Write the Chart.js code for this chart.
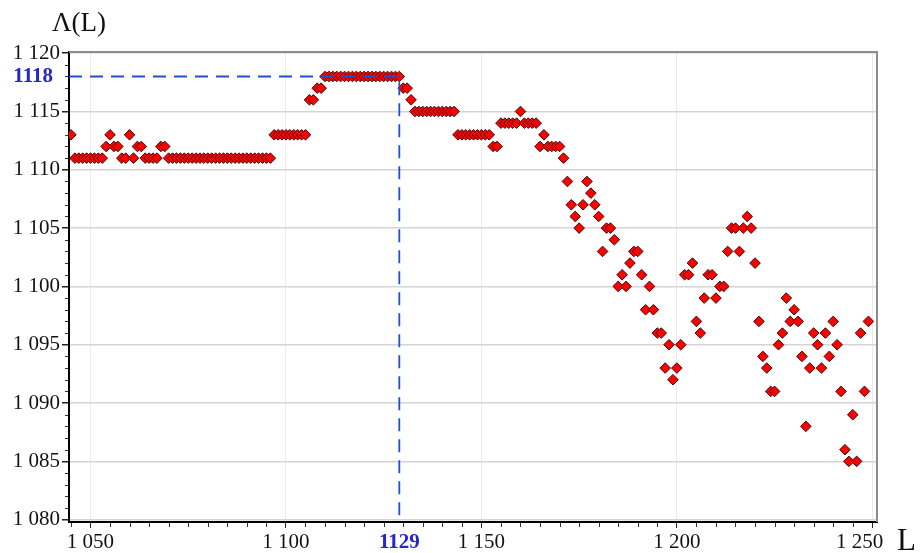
<!DOCTYPE html>
<html>
<head>
<meta charset="utf-8">
<style>
  html, body { margin: 0; padding: 0; background: #ffffff; }
  #wrap { width: 924px; height: 553px; }
</style>
<script src="https://cdn.jsdelivr.net/npm/chart.js@4.4.1/dist/chart.umd.min.js"></script>
</head>
<body>
<div id="wrap"><canvas id="chart" width="924" height="553"></canvas></div>
<script>
// Λ(L) for consecutive L, starting at firstL
const firstL = 1045;
const lambdaValues = [
  1113, 1111, 1111, 1111, 1111,
  1111, 1111, 1111, 1111, 1112, 1113, 1112, 1112, 1111, 1111,
  1113, 1111, 1112, 1112, 1111, 1111, 1111, 1111, 1112, 1112,
  1111, 1111, 1111, 1111, 1111, 1111, 1111, 1111, 1111, 1111,
  1111, 1111, 1111, 1111, 1111, 1111, 1111, 1111, 1111, 1111,
  1111, 1111, 1111, 1111, 1111, 1111, 1111, 1113, 1113, 1113,
  1113, 1113, 1113, 1113, 1113, 1113, 1116, 1116, 1117, 1117,
  1118, 1118, 1118, 1118, 1118, 1118, 1118, 1118, 1118, 1118,
  1118, 1118, 1118, 1118, 1118, 1118, 1118, 1118, 1118, 1118,
  1117, 1117, 1116, 1115, 1115, 1115, 1115, 1115, 1115, 1115,
  1115, 1115, 1115, 1115, 1113, 1113, 1113, 1113, 1113, 1113,
  1113, 1113, 1113, 1112, 1112, 1114, 1114, 1114, 1114, 1114,
  1115, 1114, 1114, 1114, 1114, 1112, 1113, 1112, 1112, 1112,
  1112, 1111, 1109, 1107, 1106, 1105, 1107, 1109, 1108, 1107,
  1106, 1103, 1105, 1105, 1104, 1100, 1101, 1100, 1102, 1103,
  1103, 1101, 1098, 1100, 1098, 1096, 1096, 1093, 1095, 1092,
  1093, 1095, 1101, 1101, 1102, 1097, 1096, 1099, 1101, 1101,
  1099, 1100, 1100, 1103, 1105, 1105, 1103, 1105, 1106, 1105,
  1102, 1097, 1094, 1093, 1091, 1091, 1095, 1096, 1099, 1097,
  1098, 1097, 1094, 1088, 1093, 1096, 1095, 1093, 1096, 1094,
  1097, 1095, 1091, 1086, 1085, 1089, 1085, 1096, 1091, 1097
];

// the highlighted maximum
const markL = 1129;
const markLambda = 1118;

// axis ticks and ranges
const xTickValues = [1050, 1100, 1129, 1150, 1200, 1250];
const yTickValues = [1080, 1085, 1090, 1095, 1100, 1105, 1110, 1115, 1118, 1120];
const xRange = [1044.5, 1251.2];
const yRange = [1079.8, 1120.1];

const SERIF = '"Liberation Serif", "Times New Roman", serif';
const MARK_BLUE = '#2626cc';
const DASH_BLUE = '#1f4fd2';
const TICK_SIZE = 21;

function groupThousands(v) {
  const s = String(Math.round(v));
  return s.length > 3 ? s.slice(0, s.length - 3) + ' ' + s.slice(-3) : s;
}

const points = lambdaValues.map((v, i) => ({ x: firstL + i, y: v }));
const guide = [
  { x: xRange[0], y: markLambda },
  { x: markL, y: markLambda },
  { x: markL, y: yRange[0] }
];

const isMark = (ctx, v) => ctx.tick && ctx.tick.value === v;
const xMax = xTickValues[xTickValues.length - 1];

// plot frame, minor ticks and axis captions
const decorations = {
  id: 'decorations',
  afterDraw(chart) {
    const { ctx, chartArea: a, scales: { x, y } } = chart;
    ctx.save();
    ctx.strokeStyle = '#8c8c8c';
    ctx.lineWidth = 2;
    ctx.beginPath();
    ctx.moveTo(a.left, a.top);
    ctx.lineTo(a.right, a.top);
    ctx.lineTo(a.right, a.bottom);
    ctx.stroke();

    ctx.strokeStyle = '#333';
    ctx.lineWidth = 1;
    ctx.beginPath();
    for (let v = Math.ceil(y.min); v <= y.max; v++) {
      if (v % 5 === 0) continue;
      const py = Math.round(y.getPixelForValue(v)) + 0.5;
      ctx.moveTo(a.left - 4, py);
      ctx.lineTo(a.left - 1, py);
    }
    for (let v = Math.ceil(x.min / 5) * 5; v <= x.max; v += 5) {
      if (v % 50 === 0) continue;
      const px = Math.round(x.getPixelForValue(v)) + 0.5;
      ctx.moveTo(px, a.bottom + 1);
      ctx.lineTo(px, a.bottom + 5);
    }
    ctx.stroke();

    ctx.fillStyle = '#111';
    ctx.textBaseline = 'alphabetic';
    ctx.textAlign = 'left';
    ctx.font = '27px ' + SERIF;
    ctx.fillText('Λ(L)', 52, 31);
    ctx.font = '31px ' + SERIF;
    ctx.fillText('L', 897, 550);
    ctx.restore();
  }
};

new Chart(document.getElementById('chart'), {
  type: 'scatter',
  data: {
    datasets: [
      {
        type: 'line',
        data: guide,
        borderColor: DASH_BLUE,
        borderWidth: 1.8,
        borderDash: [13, 8],
        pointRadius: 0,
        fill: false,
        order: 0
      },
      {
        type: 'scatter',
        data: points,
        pointStyle: 'rectRot',
        pointRadius: 5.3,
        backgroundColor: '#ff0000',
        borderColor: '#3c0a0a',
        borderWidth: 1,
        order: 1
      }
    ]
  },
  options: {
    responsive: false,
    animation: false,
    events: [],
    layout: { padding: { left: 0, top: 52, right: 47, bottom: 0 } },
    plugins: {
      legend: { display: false },
      tooltip: { enabled: false },
      title: { display: false }
    },
    scales: {
      x: {
        type: 'linear',
        position: 'bottom',
        min: xRange[0],
        max: xRange[1],
        afterBuildTicks: s => { s.ticks = xTickValues.map(v => ({ value: v })); },
        afterFit: s => { s.height = 31; },
        border: { color: '#000', width: 2 },
        grid: {
          color: c => isMark(c, markL) ? 'rgba(0,0,0,0)' : '#ebebeb',
          lineWidth: 1,
          tickLength: 6,
          tickColor: c => isMark(c, markL) ? 'rgba(0,0,0,0)' : '#222'
        },
        ticks: {
          autoSkip: false,
          maxRotation: 0,
          padding: 2,
          color: c => isMark(c, markL) ? MARK_BLUE : '#111',
          font: c => isMark(c, markL)
            ? { family: SERIF, size: TICK_SIZE, weight: 'bold' }
            : { family: SERIF, size: TICK_SIZE },
          // the last label sits a little left of its tick, clear of the "L" caption
          callback: v => v === markL ? String(v)
            : v === xMax ? groupThousands(v) + '\u2002\u2002\u2009'
            : groupThousands(v)
        }
      },
      y: {
        type: 'linear',
        position: 'left',
        min: yRange[0],
        max: yRange[1],
        afterBuildTicks: s => { s.ticks = yTickValues.map(v => ({ value: v })); },
        afterFit: s => { s.width = 69; },
        border: { color: '#000', width: 2 },
        grid: {
          color: c => isMark(c, markLambda) ? 'rgba(0,0,0,0)' : '#d4d4d4',
          lineWidth: 1.5,
          tickLength: 7,
          tickColor: c => isMark(c, markLambda) ? 'rgba(0,0,0,0)' : '#222'
        },
        ticks: {
          padding: 2,
          color: c => isMark(c, markLambda) ? MARK_BLUE : '#111',
          font: c => isMark(c, markLambda)
            ? { family: SERIF, size: TICK_SIZE, weight: 'bold' }
            : { family: SERIF, size: TICK_SIZE },
          callback: v => v === markLambda ? String(v) + '\u2004' : groupThousands(v)
        }
      }
    }
  },
  plugins: [decorations]
});
</script>
</body>
</html>
